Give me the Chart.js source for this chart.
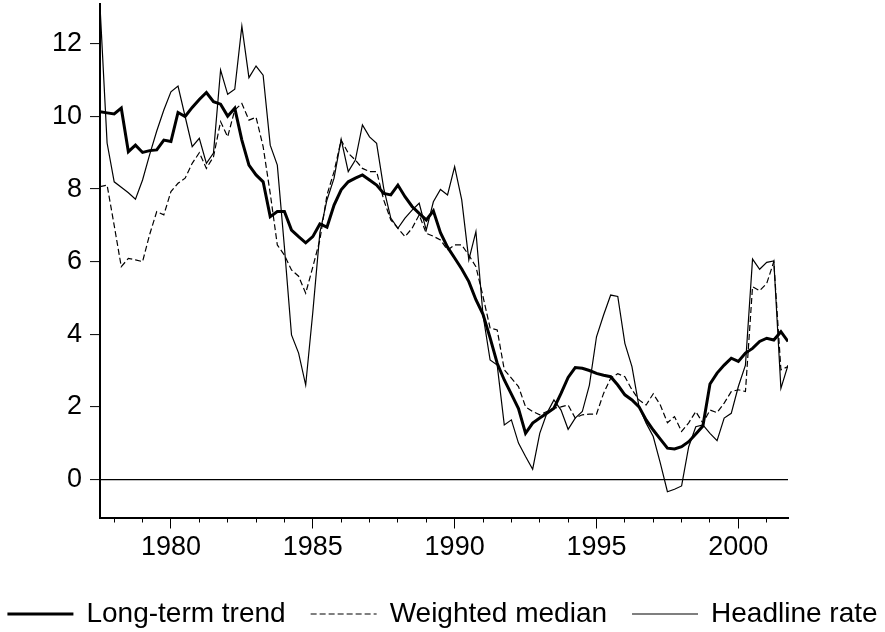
<!DOCTYPE html>
<html>
<head>
<meta charset="utf-8">
<script src="https://cdn.jsdelivr.net/npm/chart.js@4/dist/chart.umd.min.js"></script>
<style>
  html, body { margin: 0; padding: 0; background: #fff; }
</style>
</head>
<body>
<canvas id="inflationChart" width="885" height="632"></canvas>
<script>
// quarterly observations, 1977Q3 .. 2001Q4
const firstYear = 1977;
const firstQuarter = 3;

const trend = [
    10.13, 10.1, 10.07, 10.23, 9.03, 9.21, 9.01, 9.06, 9.08, 9.35,
    9.31, 10.11, 10.0, 10.25, 10.47, 10.66, 10.41, 10.34, 10.01, 10.23,
    9.35, 8.66, 8.39, 8.2, 7.24, 7.38, 7.38, 6.87, 6.69, 6.52,
    6.69, 7.04, 6.95, 7.56, 7.98, 8.2, 8.3, 8.39, 8.25, 8.11,
    7.88, 7.84, 8.11, 7.79, 7.52, 7.33, 7.15, 7.4, 6.8, 6.4,
    6.1, 5.8, 5.45, 4.95, 4.55, 3.9, 3.2, 2.74, 2.35, 1.95,
    1.27, 1.55, 1.69, 1.82, 1.96, 2.37, 2.81, 3.08, 3.06, 3.0,
    2.92, 2.87, 2.83, 2.6, 2.33, 2.19, 2.0, 1.64, 1.36, 1.11,
    0.86, 0.84, 0.9, 1.04, 1.25, 1.47, 2.63, 2.93, 3.15, 3.34,
    3.25, 3.48, 3.61, 3.8, 3.89, 3.84, 4.07, 3.8
];

const weightedMedian = [
    8.07, 8.11, 7.0, 5.86, 6.09, 6.05, 6.0, 6.75, 7.38, 7.29,
    7.93, 8.16, 8.3, 8.71, 9.0, 8.57, 8.89, 9.86, 9.44, 10.18,
    10.36, 9.9, 9.98, 9.17, 7.88, 6.46, 6.18, 5.77, 5.6, 5.13,
    5.85, 6.6, 7.84, 8.48, 9.35, 8.99, 8.8, 8.57, 8.48, 8.48,
    7.7, 7.15, 6.92, 6.69, 6.92, 7.29, 6.78, 6.7, 6.6, 6.32,
    6.46, 6.46, 6.18, 5.86, 5.04, 4.17, 4.12, 3.02, 2.79, 2.56,
    2.0, 1.87, 1.78, 1.87, 1.96, 2.0, 2.05, 1.69, 1.78, 1.8,
    1.8, 2.37, 2.79, 2.91, 2.83, 2.47, 2.19, 2.05, 2.36, 2.05,
    1.56, 1.73, 1.32, 1.56, 1.87, 1.55, 1.91, 1.84, 2.1, 2.42,
    2.47, 2.42, 5.31, 5.2, 5.4, 6.0, 3.02, 3.11
];

const headline = [
    13.05, 9.27, 8.2, 8.05, 7.9, 7.72, 8.25, 8.95, 9.6, 10.18,
    10.68, 10.84, 10.0, 9.17, 9.4, 8.71, 8.99, 11.28, 10.61, 10.75,
    12.49, 11.07, 11.39, 11.14, 9.21, 8.66, 6.4, 3.98, 3.48, 2.6,
    4.6, 6.8, 7.7, 8.3, 9.37, 8.48, 8.8, 9.77, 9.44, 9.26,
    8.02, 7.2, 6.92, 7.2, 7.42, 7.61, 6.87, 7.65, 7.99, 7.84,
    8.62, 7.7, 6.05, 6.83, 4.53, 3.29, 3.15, 1.5, 1.64, 1.0,
    0.63, 0.28, 1.27, 1.82, 2.19, 1.91, 1.38, 1.69, 1.87, 2.6,
    3.93, 4.53, 5.08, 5.04, 3.75, 3.11, 2.0, 1.55, 1.18, 0.45,
    -0.34, -0.27, -0.18, 0.9, 1.45, 1.5, 1.27, 1.07, 1.69, 1.82,
    2.56, 3.15, 6.07, 5.79, 5.98, 6.02, 2.51, 3.15
];

const yearLabels = [1980, 1985, 1990, 1995, 2000];
const yearTicks = [1978, 1979, 1980, 1981, 1982, 1983, 1984, 1985, 1986, 1987, 1988, 1989,
    1990, 1991, 1992, 1993, 1994, 1995, 1996, 1997, 1998, 1999, 2000, 2001];
const valueTicks = [0, 2, 4, 6, 8, 10, 12];

// time position of each quarter (Q1 sits on the year tick)
let quarters = [];
for (let i = 0; i < trend.length; i++) {
    let q = firstQuarter - 1 + i;
    quarters.push(firstYear + Math.floor(q / 4) + (q % 4) / 4);
}

function points(values) {
    return values.map((v, i) => ({x: quarters[i], y: v}));
}

Chart.defaults.font.family = "'Liberation Sans', Arial, sans-serif";
Chart.defaults.color = '#000';

// legend drawn under the plot: line sample + label
const lineLegend = {
    id: 'lineLegend',
    afterDraw(chart) {
        const ctx = chart.ctx;
        const sample = 66, gap = 13, itemGap = 25, y = 614;
        ctx.save();
        ctx.font = "28px 'Liberation Sans', Arial, sans-serif";
        ctx.textBaseline = 'middle';
        ctx.fillStyle = '#000';
        const sets = chart.data.datasets;
        let total = 0;
        sets.forEach((ds, i) => {
            total += sample + gap + ctx.measureText(ds.label).width + (i > 0 ? itemGap : 0);
        });
        let x = (chart.width - total) / 2;
        sets.forEach((ds) => {
            ctx.beginPath();
            ctx.lineWidth = ds.borderWidth;
            ctx.strokeStyle = ds.borderColor;
            ctx.setLineDash(ds.borderDash || []);
            ctx.moveTo(x, y);
            ctx.lineTo(x + sample, y);
            ctx.stroke();
            ctx.setLineDash([]);
            x += sample + gap;
            ctx.fillText(ds.label, x, y);
            x += ctx.measureText(ds.label).width + itemGap;
        });
        ctx.restore();
    }
};

let inflationChart = new Chart(document.getElementById('inflationChart').getContext('2d'), {
    type: 'line',
    data: {
        datasets: [{
            label: 'Long-term trend',
            data: points(trend),
            borderColor: '#000',
            borderWidth: 3,
            pointRadius: 0,
            tension: 0
        }, {
            label: 'Weighted median',
            data: points(weightedMedian),
            borderColor: '#000',
            borderWidth: 1.2,
            borderDash: [6, 3],
            pointRadius: 0,
            tension: 0
        }, {
            label: 'Headline rate',
            data: points(headline),
            borderColor: '#000',
            borderWidth: 1.2,
            pointRadius: 0,
            tension: 0
        }]
    },
    options: {
        responsive: false,
        animation: false,
        layout: {
            padding: {top: 4, left: 0, right: 0, bottom: 57}
        },
        plugins: {
            legend: {display: false},
            tooltip: {enabled: false}
        },
        scales: {
            xMinor: {
                type: 'linear',
                position: 'bottom',
                weight: 0,
                min: 1977.5,
                max: 2001.75,
                afterBuildTicks: (scale) => {
                    scale.ticks = yearTicks.map(v => ({value: v}));
                },
                afterFit: (scale) => {
                    scale.height = 0;
                    scale.paddingLeft = 0;
                    scale.paddingRight = 0;
                },
                ticks: {display: false},
                grid: {
                    drawOnChartArea: false,
                    tickLength: 5,
                    tickColor: '#000',
                    tickWidth: 1
                },
                border: {display: false}
            },
            x: {
                type: 'linear',
                position: 'bottom',
                weight: 1,
                min: 1977.5,
                max: 2001.75,
                afterBuildTicks: (scale) => {
                    scale.ticks = yearLabels.map(v => ({value: v}));
                },
                afterFit: (scale) => {
                    scale.height = 57.5;
                    scale.paddingLeft = 0;
                    scale.paddingRight = 0;
                },
                ticks: {
                    font: {size: 27},
                    padding: 3,
                    maxRotation: 0,
                    callback: (v) => String(v)
                },
                grid: {
                    drawOnChartArea: false,
                    tickLength: 11,
                    tickColor: '#000',
                    tickWidth: 1
                },
                border: {color: '#000', width: 2}
            },
            y: {
                type: 'linear',
                position: 'left',
                min: -1.05,
                max: 13.1,
                afterBuildTicks: (scale) => {
                    scale.ticks = valueTicks.map(v => ({value: v}));
                },
                afterFit: (scale) => {
                    scale.width = 100;
                    scale.paddingTop = 0;
                    scale.paddingBottom = 0;
                },
                ticks: {
                    font: {size: 27},
                    padding: 8
                },
                grid: {
                    color: (c) => (c.tick && c.tick.value === 0 ? '#000' : 'rgba(0,0,0,0)'),
                    lineWidth: 1.2,
                    tickLength: 10,
                    tickColor: '#000',
                    tickWidth: 1
                },
                border: {color: '#000', width: 2}
            },
            yRight: {
                type: 'linear',
                position: 'right',
                display: true,
                afterFit: (scale) => {
                    scale.width = 97;
                    scale.paddingTop = 0;
                    scale.paddingBottom = 0;
                },
                ticks: {display: false},
                grid: {display: false},
                border: {display: false}
            }
        }
    },
    plugins: [lineLegend]
});
</script>
</body>
</html>
